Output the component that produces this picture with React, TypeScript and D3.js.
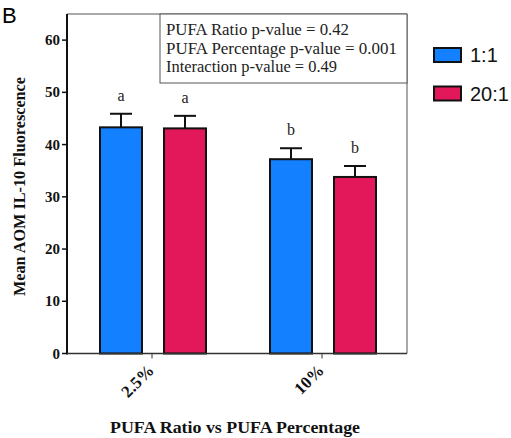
import * as d3 from 'd3';

const groups = ['2.5%', '10%'];
const series = ['1:1', '20:1'];
const means = [
  [43.3, 43.1],
  [37.2, 33.8],
];
const errors = [
  [2.6, 2.4],
  [2.1, 2.1],
];
const letters = [
  ['a', 'a'],
  ['b', 'b'],
];
const yTicks = [0, 10, 20, 30, 40, 50, 60];
const statLines = [
  'PUFA Ratio p-value = 0.42',
  'PUFA Percentage p-value = 0.001',
  'Interaction p-value = 0.49',
];
const statWidths = [183, 231, 171];
const colors = ['#1280FF', '#E2185A'];

export default function App() {
  const W = 511;
  const H = 438;
  const left = 67;
  const right = 407;
  const top = 14;
  const bottom = 353.5;

  const x = d3.scaleBand<string>().domain(groups).range([left, right]);
  // bars sit 33..139 px inside each 170 px group band
  const inner = d3
    .scaleBand<string>()
    .domain(series)
    .range([33, 139])
    .paddingInner(0.344)
    .paddingOuter(0);
  const y = d3.scaleLinear().domain([0, 65]).range([bottom, top]);

  const serif = '"Liberation Serif", "Times New Roman", serif';
  const sans = '"Liberation Sans", Arial, sans-serif';

  return (
    <svg
      width={W}
      height={H}
      style={{ position: 'absolute', left: 0, top: 0, background: '#fff' }}
    >
      <text x={2} y={23} fontFamily={sans} fontSize={22}>
        B
      </text>

      {/* frame */}
      <line x1={left} x2={right} y1={top} y2={top} stroke="#555" strokeWidth={1} />
      <line x1={right} x2={right} y1={top} y2={bottom} stroke="#555" strokeWidth={1} />

      {/* bars */}
      {groups.map((g, gi) =>
        series.map((s, si) => {
          const bx = (x(g) ?? 0) + (inner(s) ?? 0);
          const bw = inner.bandwidth();
          const cx = bx + bw / 2;
          const v = means[gi][si];
          const e = v + errors[gi][si];
          return (
            <g key={g + s}>
              <line x1={cx} x2={cx} y1={y(v)} y2={y(e)} stroke="#111" strokeWidth={2} />
              <line x1={cx - 11} x2={cx + 11} y1={y(e)} y2={y(e)} stroke="#111" strokeWidth={2} />
              <rect
                x={bx}
                y={y(v)}
                width={bw}
                height={bottom - y(v)}
                fill={colors[si]}
                stroke="#111"
                strokeWidth={2}
              />
              <text
                x={cx}
                y={y(e) - 13}
                textAnchor="middle"
                fontFamily={serif}
                fontSize={16}
                fill="#222"
              >
                {letters[gi][si]}
              </text>
            </g>
          );
        })
      )}

      {/* y axis */}
      <line x1={left} x2={left} y1={top} y2={bottom + 1} stroke="#111" strokeWidth={2} />
      {yTicks.map((t) => (
        <g key={t}>
          <line x1={left - 5} x2={left} y1={y(t)} y2={y(t)} stroke="#111" strokeWidth={1.5} />
          <text
            x={left - 7}
            y={y(t) + 5}
            textAnchor="end"
            fontFamily={serif}
            fontWeight="bold"
            fontSize={15}
            fill="#111"
          >
            {t}
          </text>
        </g>
      ))}
      <text
        transform={`translate(25,186.5) rotate(-90)`}
        textAnchor="middle"
        fontFamily={serif}
        fontWeight="bold"
        fontSize={16}
        textLength={219}
        lengthAdjust="spacingAndGlyphs"
        fill="#111"
      >
        Mean AOM IL-10 Fluorescence
      </text>

      {/* x axis */}
      <line x1={left} x2={right} y1={bottom} y2={bottom} stroke="#333" strokeWidth={1.5} />
      {groups.map((g) => {
        const cx = (x(g) ?? 0) + x.bandwidth() / 2;
        return (
          <g key={g}>
            <line x1={cx} x2={cx} y1={bottom} y2={bottom + 5} stroke="#333" strokeWidth={1} />
            <text
              transform={`translate(${cx + 3},${bottom + 18}) rotate(-45)`}
              textAnchor="end"
              fontFamily={serif}
              fontWeight="bold"
              fontSize={17}
              fill="#111"
            >
              {g}
            </text>
          </g>
        );
      })}
      <text
        x={235}
        y={433}
        textAnchor="middle"
        fontFamily={serif}
        fontWeight="bold"
        fontSize={17}
        textLength={250}
        lengthAdjust="spacingAndGlyphs"
        fill="#111"
      >
        PUFA Ratio vs PUFA Percentage
      </text>

      {/* stats box */}
      <rect x={160} y={top} width={right - 160} height={69} fill="#fff" stroke="#555" strokeWidth={1} />
      {statLines.map((s, i) => (
        <text
          key={s}
          x={166}
          y={35 + i * 18.5}
          fontFamily={serif}
          fontSize={16}
          textLength={statWidths[i]}
          lengthAdjust="spacingAndGlyphs"
          fill="#222"
        >
          {s}
        </text>
      ))}

      {/* legend */}
      {series.map((s, i) => (
        <g key={s}>
          <rect
            x={434}
            y={48 + i * 38.5}
            width={27}
            height={14}
            fill={colors[i]}
            stroke="#111"
            strokeWidth={2}
          />
          <text x={470} y={62 + i * 38.5} fontFamily={sans} fontSize={20} fill="#111">
            {s}
          </text>
        </g>
      ))}
    </svg>
  );
}
